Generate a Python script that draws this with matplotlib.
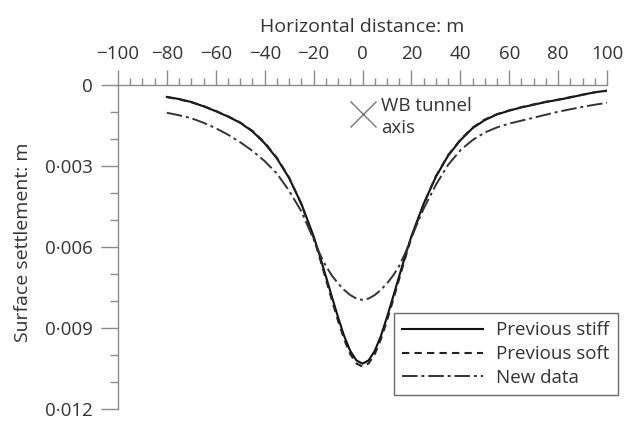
import matplotlib
matplotlib.use("Agg")
import matplotlib.pyplot as plt
from matplotlib.ticker import MultipleLocator

plt.rcParams['font.family'] = ['Open Sans', 'DejaVu Sans']

# ---- data ----
x = [-80, -75, -70, -65, -60, -55, -50, -45, -40, -35, -30, -25, -20, -17.5, -15, -12.5,
     -10, -7.5, -5, -2.5, 0, 2.5, 5, 7.5, 10, 12.5, 15, 17.5, 20, 25, 30, 35, 40, 45,
     50, 55, 60, 65, 70, 75, 80, 85, 90, 95, 100]

prev_stiff = [0.00044, 0.00052, 0.00063, 0.00079, 0.00097, 0.00117, 0.00140, 0.00172,
              0.00216, 0.00272, 0.00345, 0.00440, 0.00560, 0.00632, 0.00708, 0.00785,
              0.00860, 0.00930, 0.00985, 0.01020, 0.01032, 0.01020, 0.00985, 0.00930,
              0.00860, 0.00785, 0.00708, 0.00632, 0.00560, 0.00440, 0.00340, 0.00262,
              0.00205, 0.00160, 0.00130, 0.00109, 0.00095, 0.00083, 0.00073, 0.00063,
              0.00055, 0.00046, 0.00036, 0.00027, 0.00021]

prev_soft = [0.00045, 0.00053, 0.00064, 0.00078, 0.00096, 0.00116, 0.00139, 0.00170,
             0.00213, 0.00270, 0.00343, 0.00442, 0.00565, 0.00640, 0.00718, 0.00797,
             0.00873, 0.00942, 0.00997, 0.01031, 0.01043, 0.01031, 0.00997, 0.00942,
             0.00873, 0.00797, 0.00718, 0.00640, 0.00565, 0.00442, 0.00338, 0.00260,
             0.00203, 0.00158, 0.00128, 0.00108, 0.00094, 0.00082, 0.00072, 0.00062,
             0.00054, 0.00045, 0.00036, 0.00027, 0.00021]

new_data = [0.00103, 0.00112, 0.00123, 0.00140, 0.00160, 0.00184, 0.00212, 0.00244,
            0.00282, 0.00328, 0.00392, 0.00468, 0.00572, 0.00625, 0.00670, 0.00706,
            0.00735, 0.00759, 0.00778, 0.00791, 0.00796, 0.00791, 0.00778, 0.00759,
            0.00735, 0.00706, 0.00670, 0.00622, 0.00565, 0.00458, 0.00370, 0.00296,
            0.00242, 0.00204, 0.00176, 0.00157, 0.00143, 0.00132, 0.00121, 0.00110,
            0.00099, 0.00090, 0.00081, 0.00073, 0.00066]

labels = ["Previous stiff", "Previous soft", "New data"]
xticks = [-100, -80, -60, -40, -20, 0, 20, 40, 60, 80, 100]
yticks = [0, 0.003, 0.006, 0.009, 0.012]
ytick_labels = ["0", "0\u00b7003", "0\u00b7006", "0\u00b7009", "0\u00b7012"]
tunnel_x, tunnel_y = 0, 0.00108

# ---- figure ----
W, H = 632, 421
fig = plt.figure(figsize=(W / 100, H / 100), dpi=100)
L, R, T, B = 118, 607, 85, 409
ax = fig.add_axes([L / W, 1 - B / H, (R - L) / W, (B - T) / H])

txt = '#333333'
spc = '#8a8a8a'
fs = 13.5

ax.plot(x, prev_stiff, color='#111111', lw=1.5, ls='-', label=labels[0])
ax.plot(x, prev_soft, color='#222222', lw=1.5, ls=(0, (3.5, 2.5)), label=labels[1])
ax.plot(x, new_data, color='#333333', lw=1.4, ls=(0, (8, 2, 1.5, 2)), label=labels[2])

ax.plot([tunnel_x], [tunnel_y], marker='x', ms=19, mew=1.0, color='#777777', ls='none')
ax.text(7.6, 0.00118, "WB tunnel\naxis", fontsize=fs, color=txt, va='center',
        ha='left', linespacing=1.3)

ax.set_xlim(-100, 100)
ax.set_ylim(0.012, 0)

for s in ['right', 'bottom']:
    ax.spines[s].set_visible(False)
for s in ['left', 'top']:
    ax.spines[s].set_color(spc)
    ax.spines[s].set_linewidth(1.0)

ax.xaxis.tick_top()
ax.xaxis.set_label_position('top')
ax.set_xticks(xticks)
ax.set_xticklabels([("\u2212" + str(-v)) if v < 0 else str(v) for v in xticks])
ax.xaxis.set_minor_locator(MultipleLocator(5))
ax.set_yticks(yticks)
ax.set_yticklabels(ytick_labels)
ax.yaxis.set_minor_locator(MultipleLocator(0.001))

ax.tick_params(axis='x', which='major', direction='out', length=11, width=1.0,
               color=spc, labelsize=fs, labelcolor=txt, pad=5)
ax.tick_params(axis='x', which='minor', direction='out', length=5, width=1.0, color=spc)
ax.tick_params(axis='y', which='major', direction='out', length=12, width=1.0,
               color=spc, labelsize=fs, labelcolor=txt, pad=6)
ax.tick_params(axis='y', which='minor', direction='out', length=5.5, width=1.0, color=spc)

ax.set_xlabel("Horizontal distance: m", fontsize=14, color=txt, labelpad=9)
ax.set_ylabel("Surface settlement: m", fontsize=14, color=txt)
ax.yaxis.set_label_coords(-0.176, 0.515)

leg = ax.legend(loc='upper left', bbox_to_anchor=(394 / W, 1 - 313 / H),
                bbox_transform=fig.transFigure, borderaxespad=0, fontsize=fs,
                handlelength=4.3, handletextpad=0.7, labelspacing=0.3,
                borderpad=0.45, frameon=True, fancybox=False)
leg.get_frame().set_edgecolor('#444444')
leg.get_frame().set_linewidth(1.0)
for t in leg.get_texts():
    t.set_color(txt)

fig.savefig("out.png", dpi=100)
